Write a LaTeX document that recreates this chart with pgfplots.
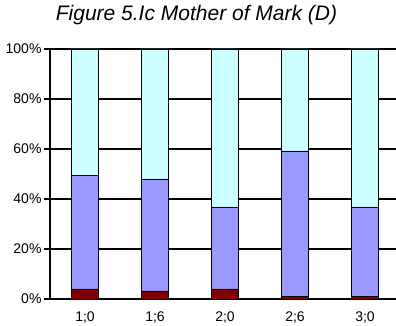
\documentclass[border=0pt]{standalone}
\usepackage{pgfplots}
\pgfplotsset{compat=1.18}
\usepackage{fontspec}
\setmainfont{Liberation Sans}

\definecolor{seriesA}{HTML}{800000}
\definecolor{seriesB}{HTML}{9999FF}
\definecolor{seriesC}{HTML}{CCFFFF}

\begin{document}
\begin{tikzpicture}
\begin{axis}[
  name=ax, at={(0,0)}, anchor=south west,
  scale only axis,
  width=346pt, height=250pt,
  xmin=-0.5, xmax=4.443,
  ymin=0, ymax=100,
  ybar stacked,
  bar width=26.5pt,
  axis x line*=bottom,
  axis y line*=left,
  axis line style={black, line width=1.3pt},
  ymajorgrids,
  grid style={black, line width=1.1pt},
  ytick={0,20,40,60,80,100},
  yticklabels={0\%,20\%,40\%,60\%,80\%,100\%},
  xtick={0,1,2,3,4},
  xticklabels={1;0,1;6,2;0,2;6,3;0},
  extra x ticks={-0.5,0.5,1.5,2.5,3.5},
  extra x tick labels={},
  extra x tick style={major tick length=6pt, tick style={black, line width=1.1pt}},
  tick align=outside,
  x tick style={draw=none},
  y tick style={black, line width=1.1pt},
  major tick length=6pt,
  ticklabel style={font=\fontsize{14}{15}\selectfont},
  xticklabel style={yshift=-3pt},
  yticklabel style={xshift=1pt},
  every axis plot/.append style={draw=black, line width=0.9pt},
]
\addplot[fill=seriesA] coordinates {(0,4) (1,3.2) (2,4) (3,1) (4,1)};
\addplot[fill=seriesB] coordinates {(0,45.3) (1,44.8) (2,32.8) (3,58.2) (4,35.8)};
\addplot[fill=seriesC] coordinates {(0,50.7) (1,52) (2,63.2) (3,40.8) (4,63.2)};
\end{axis}
\node[anchor=base, font=\itshape\fontsize{21}{22}\selectfont] at (146.5pt,278.3pt) {Figure 5.Ic Mother of Mark (D)};
\pgfresetboundingbox
\path (-50pt,-27pt) rectangle (346pt,299pt);
\end{tikzpicture}
\end{document}
